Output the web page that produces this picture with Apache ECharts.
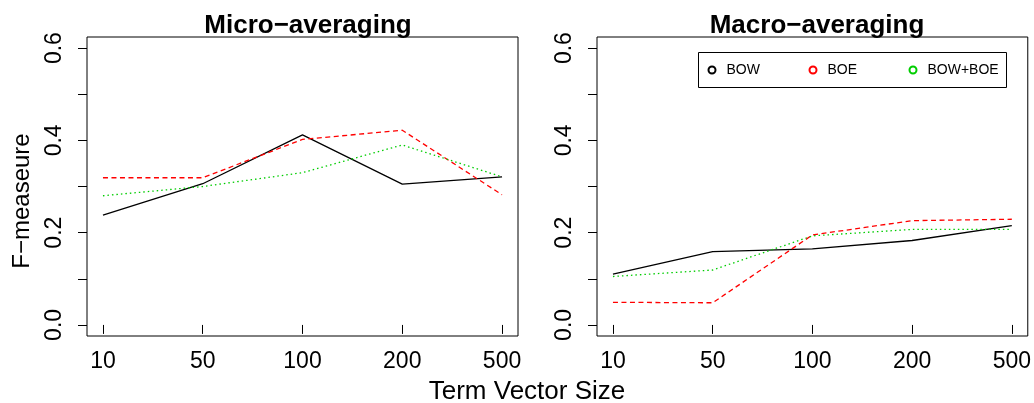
<!DOCTYPE html>
<html>
<head>
<meta charset="utf-8">
<script src="https://cdn.jsdelivr.net/npm/echarts@6/dist/echarts.min.js"></script>
<style>
  html, body { margin: 0; padding: 0; background: #fff; }
  #chart { width: 1034px; height: 403px; }
</style>
</head>
<body>
<div id="chart"></div>
<script>
// Term vector sizes on the x axis (plotted at positions 1..5)
const sizes = ['10', '50', '100', '200', '500'];

// Micro-averaged F-measure
const microBOW  = [0.238, 0.306, 0.412, 0.305, 0.321];
const microBOE  = [0.319, 0.319, 0.402, 0.422, 0.282];
const microBoth = [0.280, 0.300, 0.330, 0.390, 0.321];

// Macro-averaged F-measure
const macroBOW  = [0.110, 0.159, 0.165, 0.183, 0.215];
const macroBOE  = [0.049, 0.048, 0.195, 0.226, 0.229];
const macroBoth = [0.105, 0.119, 0.193, 0.207, 0.207];

const yTickValues  = [0, 0.1, 0.2, 0.3, 0.4, 0.5, 0.6];
const yLabelValues = [0, 0.2, 0.4, 0.6];
const xPositions   = [1, 2, 3, 4, 5];

const seriesNames = ['BOW', 'BOE', 'BOW+BOE'];

const FONT = "'Liberation Sans', Arial, Helvetica, sans-serif";
const COLORS = { BOW: '#000000', BOE: '#FF0000', BOTH: '#00CD00' };

const pts = vals => vals.map((v, i) => [xPositions[i], v]);

function xAxisFor(gridIndex) {
  return {
    type: 'value', gridIndex,
    min: 0.84, max: 5.16,
    axisLine: { show: false },
    splitLine: { show: false },
    axisTick: { show: true, length: 9, customValues: xPositions,
                lineStyle: { color: '#000', width: 1 } },
    axisLabel: { show: true, customValues: xPositions, margin: 14,
                 fontFamily: FONT, fontSize: 23, color: '#000',
                 formatter: v => sizes[Math.round(v) - 1] }
  };
}

function yAxisFor(gridIndex) {
  return {
    type: 'value', gridIndex,
    min: -0.024, max: 0.624,
    axisLine: { show: false },
    splitLine: { show: false },
    axisTick: { show: true, length: 9, customValues: yTickValues,
                lineStyle: { color: '#000', width: 1 } },
    axisLabel: { show: true, customValues: yLabelValues, rotate: 90, margin: 21,
                 fontFamily: FONT, fontSize: 23, color: '#000',
                 formatter: v => v.toFixed(1) }
  };
}

function lineSeries(name, idx, vals, color, type) {
  return {
    name, type: 'line', xAxisIndex: idx, yAxisIndex: idx,
    data: pts(vals), showSymbol: false, symbol: 'emptyCircle',
    itemStyle: { color, borderWidth: 1 },
    lineStyle: { color, width: 1.3, type },
    animation: false, silent: true
  };
}

const DASH = [5, 3.5];
const DOT = [1.5, 3];

// one legend entry per key, placed in a row inside a framed box
const legendCenters = [711, 812, 912];
const legends = seriesNames.map((name, i) => ({
  data: [name],
  left: legendCenters[i] - 3.5, top: 62,
  orient: 'horizontal', align: 'left',
  icon: 'emptyCircle', itemWidth: 7, itemHeight: 7,
  padding: 0,
  selectedMode: false,
  itemStyle: { borderWidth: 0.8 },
  textStyle: { fontFamily: FONT, fontSize: 14, color: '#000', lineHeight: 16,
               padding: [0, 0, 0, 6] }
}));

const option = {
  backgroundColor: '#fff',
  animation: false,
  title: [
    { text: 'Micro−averaging', left: 303, top: 8, textAlign: 'center',
      textStyle: { fontFamily: FONT, fontSize: 26, fontWeight: 'bold', color: '#000' } },
    { text: 'Macro−averaging', left: 812, top: 8, textAlign: 'center',
      textStyle: { fontFamily: FONT, fontSize: 26, fontWeight: 'bold', color: '#000' } }
  ],
  grid: [
    { left: 87, right: 516, top: 37, bottom: 67, show: true,
      borderColor: '#000', borderWidth: 1, backgroundColor: 'transparent' },
    { left: 597, right: 6, top: 37, bottom: 67, show: true,
      borderColor: '#000', borderWidth: 1, backgroundColor: 'transparent' }
  ],
  xAxis: [xAxisFor(0), xAxisFor(1)],
  yAxis: [yAxisFor(0), yAxisFor(1)],
  legend: legends,
  graphic: [
    { type: 'rect', z: 3, shape: { x: 698.5, y: 52.5, width: 308, height: 35 },
      style: { fill: '#fff', stroke: '#000', lineWidth: 1 } },
    { type: 'text', x: 527, y: 392,
      style: { text: 'Term Vector Size', font: '26px ' + FONT, fill: '#000',
               align: 'center', verticalAlign: 'middle' } },
    { type: 'text', x: 22, y: 201, rotation: Math.PI / 2,
      style: { text: 'F−measeure', font: '24px ' + FONT, fill: '#000',
               align: 'center', verticalAlign: 'middle' } }
  ],
  series: [
    lineSeries('BOW', 0, microBOW, COLORS.BOW, 'solid'),
    lineSeries('BOE', 0, microBOE, COLORS.BOE, DASH),
    lineSeries('BOW+BOE', 0, microBoth, COLORS.BOTH, DOT),
    lineSeries('BOW', 1, macroBOW, COLORS.BOW, 'solid'),
    lineSeries('BOE', 1, macroBOE, COLORS.BOE, DASH),
    lineSeries('BOW+BOE', 1, macroBoth, COLORS.BOTH, DOT)
  ]
};

const chart = echarts.init(document.getElementById('chart'), null, { renderer: 'canvas' });
chart.setOption(option);
</script>
</body>
</html>
